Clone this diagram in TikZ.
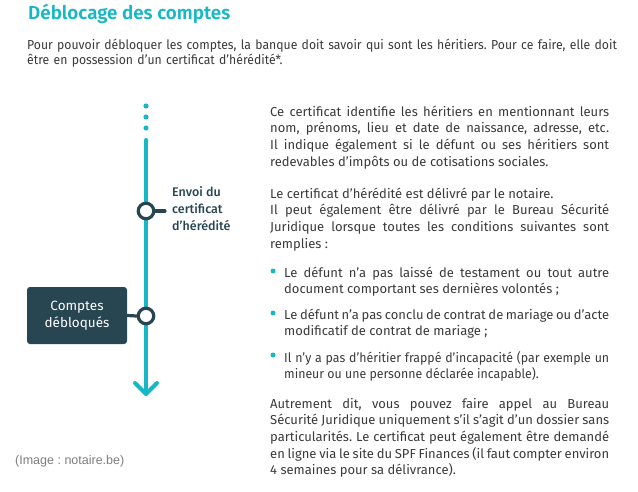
\documentclass[tikz,border=0pt]{standalone}
\usepackage{fontspec}
\setmainfont{Fira Sans}
\newfontfamily\titlefont{Fira Sans SemiBold}
\newfontfamily\labelfont{Fira Sans Medium}
\newfontfamily\introfont[FakeStretch=0.94]{Fira Sans}
\newfontfamily\narrowfont[FakeStretch=0.95]{Fira Sans}
\newfontfamily\creditfont{Liberation Sans}
\usetikzlibrary{positioning,arrows.meta}
\frenchspacing
\definecolor{lineteal}{RGB}{23,184,198}
\definecolor{darkslate}{RGB}{40,70,82}
\definecolor{bodygray}{RGB}{58,58,58}
\definecolor{creditgray}{RGB}{125,125,125}
\tikzset{
  bodytext/.style={anchor=north west,inner sep=0pt,text width=339pt,align=justify,text=bodygray,font=\fontsize{13}{16.7}\selectfont},
  bullettext/.style={bodytext,text width=325pt,font=\fontsize{13}{14}\selectfont},
  bulletdot/.style={circle,fill=lineteal,inner sep=0pt,minimum size=5pt},
  event/.style={circle,draw=darkslate,line width=3.2pt,fill=white,minimum size=15.5pt,inner sep=0pt},
  tick/.style={draw=darkslate,line width=3.2pt,line cap=round},
  timeline/.style={draw=lineteal,line width=4pt,line cap=round,line join=round},
  account box/.style={rectangle,rounded corners=3pt,fill=darkslate,text=white,minimum width=100pt,minimum height=57pt,align=center,font=\fontsize{13.5}{17}\selectfont},
  event label/.style={inner sep=0pt,align=left,text=darkslate,font=\labelfont\fontsize{12.5}{17}\selectfont}
}
\begin{document}
\begin{tikzpicture}[x=1pt,y=-1pt]
\useasboundingbox (0,0) rectangle (638,492);
% Title and introduction
\node[anchor=base west,inner sep=0pt,text=lineteal,font=\titlefont\fontsize{18.8}{22}\selectfont] (title) at (28,20) {Déblocage des comptes};
\node[bodytext,text width=600pt,align=left,font=\introfont\fontsize{13}{15}\selectfont] (intro) at (27,38.5) {\strut Pour pouvoir débloquer les comptes, la banque doit savoir qui sont les héritiers. Pour ce faire, elle doit\\être en possession d’un certificat d’hérédité*.};
% Timeline with dots and arrow
\foreach \y in {106,117,128} \fill[lineteal] (146,\y) circle (2.6pt);
\coordinate (line-top) at (146,140);
\coordinate (line-end) at (146,394);
\draw[timeline] (line-top) -- (line-end);
\draw[timeline] (line-end) ++(-11,-11) -- (line-end) -- ++(11,-11);
% First event
\node[event] (envoi) at (146,211) {};
\coordinate (envoi-tick) at (165,211);
\draw[tick] (envoi.east) -- (envoi-tick);
\node[event label,anchor=west] (envoi-label) at (172,209) {Envoi du\\certificat\\d’hérédité};
% Second event
\node[event] (debloque) at (146,316) {};
\node[account box] (comptes) at (77,315.5) {Comptes\\débloqués};
\draw[tick] (comptes.east) -- (debloque.west);
% Right column
\node[bodytext] (para-one) at (270,104.3) {\strut Ce certificat identifie les héritiers en mentionnant leurs\linebreak nom, prénoms, lieu et date de naissance, adresse, etc.\linebreak Il indique également si le défunt ou ses héritiers sont\linebreak redevables d’impôts ou de cotisations sociales.};
\node[bodytext] (para-two) at (270,186.3) {\strut Le certificat d’hérédité est délivré par le notaire.\\Il peut également être délivré par le Bureau Sécurité\linebreak Juridique lorsque toutes les conditions suivantes sont\linebreak remplies :};
\node[bulletdot] (dot-one) at (273,271) {};
\node[bullettext] (item-one) at (284,267.2) {\strut Le défunt n’a pas laissé de testament ou tout autre\linebreak document comportant ses dernières volontés ;};
\node[bulletdot] (dot-two) at (273,313) {};
\node[bullettext] (item-two) at (284,309.2) {\strut Le défunt n’a pas conclu de contrat de mariage ou d’acte\linebreak modificatif de contrat de mariage ;};
\node[bulletdot] (dot-three) at (273,355) {};
\node[bullettext,font=\narrowfont\fontsize{13}{14}\selectfont] (item-three) at (284,351.2) {\strut Il n’y a pas d’héritier frappé d’incapacité (par exemple un\linebreak mineur ou une personne déclarée incapable).};
\node[bodytext] (para-three) at (270,396.3) {\strut Autrement dit, vous pouvez faire appel au Bureau\linebreak Sécurité Juridique uniquement s’il s’agit d’un dossier sans\linebreak particularités. Le certificat peut également être demandé\linebreak en ligne via le site du SPF Finances (il faut compter environ\linebreak 4 semaines pour sa délivrance).};
% Credit
\node[anchor=base west,inner sep=0pt,text=creditgray,font=\creditfont\fontsize{12.5}{14}\selectfont] (credit) at (15,464) {(Image : notaire.be)};
\end{tikzpicture}
\end{document}
